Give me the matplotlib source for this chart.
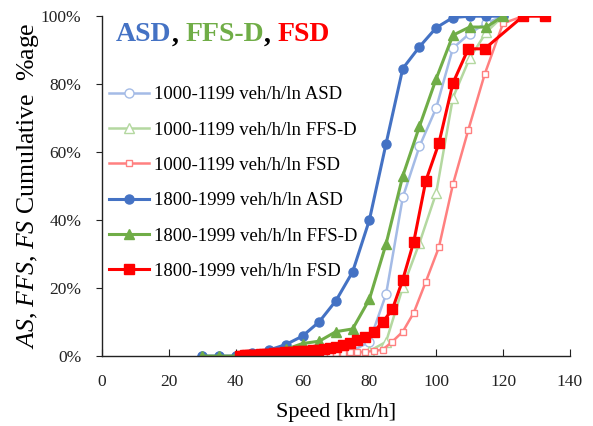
import matplotlib
matplotlib.use("Agg")
import matplotlib.pyplot as plt
from matplotlib.ticker import PercentFormatter, MultipleLocator

plt.rcParams['font.family'] = ['Liberation Serif', 'DejaVu Serif']
plt.rcParams['mathtext.fontset'] = 'custom'
plt.rcParams['mathtext.rm'] = 'Liberation Serif'
plt.rcParams['mathtext.it'] = 'Liberation Serif:italic'

# 5 km/h bins (ASD, FFS-D)
speed_5 = [30, 35, 40, 45, 50, 55, 60, 65, 70, 75, 80, 85, 90, 95, 100, 105, 110, 115, 120]
asd_1800 = [0, 0, 0, 0.8, 1.8, 3.4, 5.9, 10.1, 16.3, 24.8, 40.0, 62.5, 84.6, 91.0, 96.6, 99.6, 100, 100, 100]
ffs_1800 = [0, 0, 0, 0.4, 1.0, 2.0, 3.7, 4.4, 7.2, 8.0, 16.7, 33.0, 53.0, 67.6, 81.6, 94.4, 96.8, 96.8, 100]
asd_1000 = [0, 0, 0, 0, 0.1, 0.2, 0.3, 0.5, 0.9, 1.6, 4.2, 18.2, 46.7, 61.7, 73.0, 90.6, 94.9, 98.0, 100]
ffs_1000 = [0, 0, 0, 0, 0, 0.1, 0.1, 0.2, 0.3, 0.7, 1.5, 4.2, 20.2, 33.3, 48.0, 76.0, 87.6, 95.3, 100]

# FSD bins
fsd_speed_1800 = [41.3, 42.0, 42.7, 43.4, 44.2, 45.0, 45.8, 46.7, 47.5, 48.5, 49.4, 50.4, 51.4, 52.5,
                  53.6, 54.8, 56.0, 57.3, 58.6, 60.0, 61.5, 63.0, 64.6, 66.3, 68.1, 70.0, 72.0, 74.1,
                  76.4, 78.8, 81.3, 84.0, 86.9, 90.0, 93.3, 96.9, 100.8, 105.0, 109.6, 114.5, 126.0, 132.6]
fsd_1800 = [0.1, 0.15, 0.2, 0.25, 0.3, 0.35, 0.4, 0.45, 0.5, 0.6, 0.65, 0.7, 0.8, 0.9, 1.0, 1.1, 1.2,
            1.3, 1.4, 1.5, 1.6, 1.75, 1.9, 2.1, 2.3, 2.8, 3.3, 4.0, 4.6, 5.5, 7.2, 10.0, 13.8, 22.5,
            33.7, 51.6, 62.6, 80.3, 90.4, 90.4, 100, 100]
fsd_speed_1000 = [41.3, 42.0, 42.7, 43.4, 44.2, 45.0, 45.8, 46.7, 47.5, 48.5, 49.4, 50.4, 51.4, 52.5,
                  53.6, 54.8, 56.0, 57.3, 58.6, 60.0, 61.5, 63.0, 64.6, 66.3, 68.1, 70.0, 72.0, 74.1,
                  76.4, 78.8, 81.3, 84.0, 86.9, 90.0, 93.3, 96.9, 100.8, 105.0, 109.6, 114.5, 120.0, 126.0]
fsd_1000 = [0.0, 0.0, 0.05, 0.05, 0.05, 0.1, 0.1, 0.1, 0.15, 0.15, 0.2, 0.2, 0.25, 0.25, 0.3, 0.3,
            0.35, 0.35, 0.4, 0.4, 0.45, 0.5, 0.55, 0.6, 0.7, 0.8, 1.0, 1.1, 1.2, 1.3, 1.5, 1.9, 4.3,
            7.2, 12.8, 21.9, 32.0, 50.5, 66.5, 82.9, 97.9, 100]

labels = ["1000-1199 veh/h/ln ASD", "1000-1199 veh/h/ln FFS-D", "1000-1199 veh/h/ln FSD",
          "1800-1999 veh/h/ln ASD", "1800-1999 veh/h/ln FFS-D", "1800-1999 veh/h/ln FSD"]

BLUE, GREEN, RED = "#4472C4", "#70AD47", "#FF0000"
LBLUE, LGREEN, LRED = "#A4BBE6", "#B4D8A0", "#FF8080"

fig = plt.figure(figsize=(5.93, 4.26), dpi=100)
ax = fig.add_axes([0.172, 0.164, 0.789, 0.798])

ax.plot(speed_5, asd_1000, color=LBLUE, lw=1.8, marker='o', ms=6.5, mfc='white', mec=LBLUE, mew=1.0, label=labels[0])
ax.plot(speed_5, ffs_1000, color=LGREEN, lw=1.8, marker='^', ms=6.5, mfc='white', mec=LGREEN, mew=1.0, label=labels[1])
ax.plot(fsd_speed_1000, fsd_1000, color=LRED, lw=1.8, marker='s', ms=4.5, mfc='white', mec=LRED, mew=1.0, label=labels[2])
ax.plot(speed_5, asd_1800, color=BLUE, lw=2.2, marker='o', ms=6.5, mfc=BLUE, mec=BLUE, label=labels[3])
ax.plot(speed_5, ffs_1800, color=GREEN, lw=2.2, marker='^', ms=7, mfc=GREEN, mec=GREEN, label=labels[4])
ax.plot(fsd_speed_1800, fsd_1800, color=RED, lw=2.2, marker='s', ms=6.5, mfc=RED, mec=RED, label=labels[5])

ax.set_xlim(0, 140)
ax.set_ylim(0, 100)
ax.xaxis.set_major_locator(MultipleLocator(20))
ax.yaxis.set_major_locator(MultipleLocator(20))
ax.yaxis.set_major_formatter(PercentFormatter(decimals=0))
for s in ['top', 'right']:
    ax.spines[s].set_visible(False)
for s in ['left', 'bottom']:
    ax.spines[s].set_color('#222222')
    ax.spines[s].set_linewidth(1.0)
ax.tick_params(axis='x', direction='in', length=5, labelsize=12.5, colors='#222222', pad=13)
ax.tick_params(axis='y', direction='out', length=4, labelsize=12.5, colors='#222222', pad=11)

ax.set_xlabel("Speed [km/h]", fontsize=16, labelpad=9)
ax.set_ylabel(r"$AS$, $FFS$, $FS$ Cumulative  %age", fontsize=18.5, labelpad=0)

leg = ax.legend(loc='upper left', bbox_to_anchor=(0.0, 0.816), frameon=False, fontsize=13.5,
                handlelength=2.1, handletextpad=0.3, labelspacing=0.97, borderaxespad=0.0)

t1 = ax.text(0.03, 0.982, "ASD", transform=ax.transAxes, fontsize=20, fontweight='bold',
             color=BLUE, va='top', ha='left')
t2 = ax.annotate(", ", xy=(1, 0), xycoords=t1, va='bottom', ha='left', fontsize=20, fontweight='bold', color='black')
t3 = ax.annotate("FFS-D", xy=(1, 0), xycoords=t2, va='bottom', ha='left', fontsize=20, fontweight='bold', color=GREEN)
t4 = ax.annotate(", ", xy=(1, 0), xycoords=t3, va='bottom', ha='left', fontsize=20, fontweight='bold', color='black')
t5 = ax.annotate("FSD", xy=(1, 0), xycoords=t4, va='bottom', ha='left', fontsize=20, fontweight='bold', color=RED)

fig.savefig("out.png", dpi=100)
